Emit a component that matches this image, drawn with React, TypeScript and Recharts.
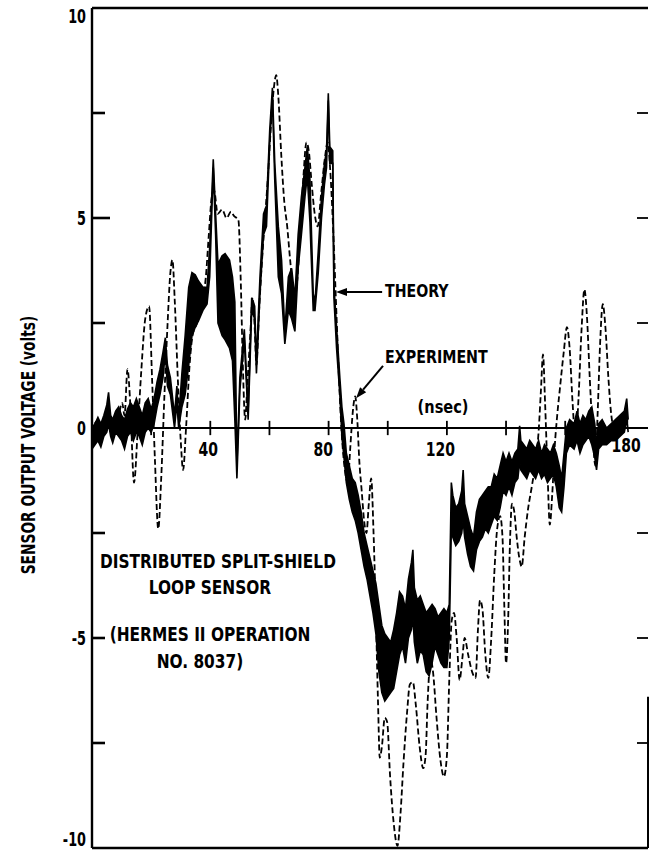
import React from "react";
import {
  ComposedChart,
  Area,
  Line,
  XAxis,
  YAxis,
  ReferenceLine,
  ReferenceDot,
} from "recharts";

const FONT = "'Liberation Sans Narrow', 'DejaVu Sans Condensed', 'Arial Narrow', sans-serif";

// theory trace is a thick noisy band: lower and upper edge
const theoryT = [
  0, 1, 2, 3, 4, 5, 5.6, 6.3, 7, 8, 9, 10, 11, 12, 13, 14, 15, 16, 17, 18, 19, 20,
  21, 22, 23, 24, 24.8, 25.5, 26.5, 27.9, 28.7, 29.3, 30.4, 31.5, 32.7, 33.8, 34.9, 36,
  37.5, 38.9, 39.8, 41, 41.8, 42.6, 44, 45, 46.5, 47.5, 48.3, 49, 50, 51.5, 52.8, 54,
  55, 55.6, 56.8, 58, 59, 60.1, 61, 61.8, 63, 64.1, 65.2, 66.4, 67.5, 68.6, 69.7, 70.8,
  72, 72.8, 73.7, 74.8, 75.4, 76.5, 77.6, 78.6, 79.3, 79.9, 80.4, 81.4, 81.8, 82.7, 83.8,
  84.5, 85.2, 86, 87, 88, 89, 90, 91, 92, 93, 94, 95, 96, 97, 98, 99, 100, 101, 102, 103,
  104, 105, 106, 107, 108, 108.5, 109, 110, 111, 112, 113, 114, 115, 116, 117, 118, 119,
  120, 120.8, 121.5, 122, 123, 124, 125, 125.5, 126, 127, 128, 129, 130, 131, 132, 133,
  134, 135, 136, 137, 138, 139, 140, 141, 142, 143, 144, 144.6, 145, 146, 147, 148, 149,
  150, 151, 152, 153, 154, 155, 156, 157, 158, 158.8, 159.6, 160.4, 161.5, 163, 164, 165,
  166, 167, 168, 169, 170, 170.6, 171.3, 172.5, 174, 175.5, 177, 178.5, 180, 180.8, 181.3,
];
const theoryLo = [
  -0.5, -0.4, -0.3, -0.45, -0.2, -0.1, 0.1, -0.2, -0.35, -0.1, -0.2, -0.3, -0.5, -0.2, -0.1, -0.3, -0.1, -0.2, -0.4, -0.1, 0, -0.1,
  0.1, 0.5, 0.8, 1.2, 1.8, 1.0, 0.8, 0.0, 0.6, 0.0, 0.5, 0.8, 1.5, 2.2, 2.4, 2.55,
  2.8, 2.95, 3.6, 6.2, 4.6, 2.5, 2.2, 2.1, 1.9, 1.6, 0.2, -1.2, 0.9, 2.1, 0.2, 2.8,
  2.6, 1.3, 3.2, 4.6, 4.8, 6.8, 7.85, 5.9, 3.6, 3.2, 2.0, 2.8, 2.6, 2.3, 3.8, 4.6,
  5.5, 6.0, 4.9, 2.8, 2.8, 3.7, 5.0, 5.8, 6.2, 7.8, 6.3, 6.3, 3.1, 1.9, 0.8,
  -0.2, -0.7, -1.3, -1.7, -2.0, -2.2, -2.5, -2.9, -3.3, -3.6, -4.0, -4.4, -4.9, -5.8, -6.3, -6.5, -6.4, -6.3, -6.2, -5.8,
  -5.4, -5.2, -5.6, -5.0, -4.8, -4.5, -5.1, -5.6, -5.3, -5.4, -5.8, -5.9, -5.6, -5.2, -5.4, -5.6, -5.7,
  -5.7, -5.0, -2.4, -2.6, -2.8, -2.7, -2.5, -2.2, -2.6, -3.0, -3.3, -3.4, -2.9, -2.7, -2.6, -2.4,
  -2.5, -2.3, -2.1, -2.2, -1.9, -1.5, -1.6, -1.4, -1.6, -1.3, -1.2, -0.8, -1.0, -1.1, -1.2, -1.0, -1.1,
  -1.2, -1.0, -1.2, -1.1, -1.3, -1.2, -1.1, -1.4, -1.9, -2.0, -1.4, -0.6, -0.4, -0.5, -0.3, -0.6,
  -0.4, -0.3, -0.2, -0.4, -0.7, -1.0, -0.5, -0.4, -0.4, -0.3, -0.3, -0.2, -0.1, 0.2, -0.1,
];
const theoryHi = [
  0.0, 0.1, 0.25, 0.1, 0.3, 0.55, 0.85, 0.3, 0.2, 0.4, 0.5, 0.3, 0.2, 0.45, 0.6, 0.5, 0.7, 0.5, 0.3, 0.6, 0.7, 0.45,
  0.7, 1.1, 1.4, 1.8, 2.15, 1.5, 1.2, 0.3, 1.0, 0.2, 1.3, 2.2, 3.35, 3.7, 3.65, 3.5,
  3.35, 3.35, 4.3, 6.4, 5.1, 3.9, 4.1, 4.15, 4.0, 3.6, 3.0, -0.9, 1.2, 2.35, 0.4, 3.1,
  2.9, 1.6, 3.6, 5.1, 5.3, 7.1, 8.1, 6.3, 4.8, 4.0, 2.3, 3.6, 3.8, 3.1, 4.6, 5.5,
  6.2, 6.7, 5.9, 3.2, 3.0, 4.2, 5.5, 6.3, 6.6, 7.97, 6.7, 6.6, 3.4, 2.4, 1.2,
  0.5, 0.1, -0.6, -0.9, -1.2, -1.3, -1.6, -2.0, -2.5, -2.8, -3.1, -3.4, -3.7, -4.2, -4.7, -4.9, -5.0, -5.1, -4.8, -4.4,
  -3.9, -4.0, -4.3, -3.6, -3.2, -2.9, -3.8, -4.1, -4.0, -4.2, -4.4, -4.3, -4.2, -4.3, -4.5, -4.4, -4.3,
  -4.4, -4.2, -1.3, -1.6, -1.9, -1.8, -1.5, -1.0, -1.8, -2.1, -2.4, -2.6, -2.0, -1.7, -1.6, -1.5,
  -1.4, -1.4, -1.1, -1.2, -0.9, -0.6, -0.8, -0.6, -0.8, -0.6, -0.5, 0.05, -0.3, -0.4, -0.5, -0.3, -0.4,
  -0.5, -0.3, -0.6, -0.4, -0.5, -0.6, -0.4, -0.6, -0.9, -1.2, -0.6, 0.0, 0.2, 0.1, 0.4, 0.1,
  0.3, 0.2, 0.4, 0.5, 0.1, -0.4, 0.1, 0.2, 0.0, 0.1, 0.2, 0.3, 0.4, 0.7, 0.2,
];

// experiment trace (dashed)
const expT = [
  0, 1.5, 3, 4.5, 6, 7.5, 9, 10.2, 11, 12, 13, 14.2, 15.5, 16.7, 18, 19.3, 20.3, 21.3,
  22.4, 23.4, 24.5, 25.5, 26.5, 27.2, 28, 29, 30, 30.8, 31.8, 33, 34, 35.5, 37, 38.5,
  39.5, 40.5, 41.3, 42.5, 44, 45.5, 47, 48, 49.5, 50.3, 51, 51.8, 52.5, 53.5, 54.3, 55,
  55.6, 56.5, 57.5, 58.5, 59.5, 60.5, 61.5, 62.3, 63, 64, 65, 66, 67, 68.5, 69.5, 70.5,
  71.5, 72.5, 73.3, 74.3, 75.3, 76.3, 77.5, 78.7, 79.7, 80.5, 81.5, 82.5, 83.5, 84.5,
  85.5, 86.5, 87.3, 88.2, 89, 89.7, 90.4, 91.2, 92, 92.8, 93.6, 94.4, 95.2, 96, 96.7,
  97.3, 98, 99, 99.8, 100.8, 102, 103.3, 104.3, 105.3, 106.5, 107.5, 108.5, 109.5, 110.8,
  112, 112.8, 113.5, 114.5, 115.3, 116.5, 117.8, 119, 120, 120.8, 121.6, 122.4, 123.3,
  124.3, 125.2, 126, 127.2, 128.5, 129.7, 130.5, 131.2, 132, 133, 134, 135, 136, 137, 138,
  138.8, 139.4, 140, 140.7, 141.3, 142, 142.8, 143.6, 144.5, 145.3, 146.3, 147.5, 148.7,
  150, 151, 151.8, 152.5, 153.2, 154, 154.8, 155.6, 156.5, 157.3, 158.3, 159.5, 160.6,
  161.5, 162.5, 163.5, 164.5, 165.5, 166.5, 167.4, 168.3, 169.2, 170.2, 171, 171.8, 172.7,
  173.6, 174.6, 175.6, 176.5, 178, 180,
];
const expV = [
  -0.1, 0.15, -0.2, 0.1, 0.3, 0.0, 0.3, 0.6, 0.3, 1.4, 0.5, -1.3, 0.0, 1.4, 2.6, 2.9, 1.2, -0.8,
  -2.4, -1.2, 0.8, 2.4, 3.7, 4.0, 3.0, 1.2, -0.3, -1.0, 0.0, 1.5, 2.2, 2.5, 3.0, 3.6,
  4.6, 5.5, 5.65, 5.1, 5.2, 5.0, 5.15, 5.05, 4.95, 3.5, 1.5, 0.2, 1.0, 2.2, 3.1, 2.4,
  1.5, 2.8, 4.0, 5.0, 6.0, 7.2, 8.1, 8.4, 7.9, 6.5, 5.4, 4.8, 4.0, 3.1, 3.6, 4.8,
  6.0, 6.8, 6.6, 5.8, 5.1, 4.8, 5.6, 6.4, 6.8, 6.2, 4.8, 3.0, 1.2, -0.2,
  -1.0, -1.3, -0.5, 0.4, 0.75, 0.2, -0.8, -1.5, -2.2, -2.5, -1.8, -1.2, -2.5, -4.5, -6.5,
  -7.85, -7.6, -6.9, -7.0, -8.3, -9.4, -9.95, -9.2, -8.0, -6.8, -6.1, -6.05, -6.6, -7.6,
  -8.1, -7.8, -6.5, -5.5, -5.8, -6.9, -7.9, -8.3, -7.8, -6.0, -4.6, -4.4, -5.0,
  -6.0, -5.5, -5.0, -5.4, -5.8, -5.95, -4.8, -4.1, -4.3, -5.4, -5.95, -5.0, -3.5, -2.4, -2.1,
  -2.6, -4.2, -5.6, -4.6, -2.8, -1.8, -2.0, -2.6, -3.1, -3.3, -2.6, -1.9, -1.4,
  -0.8, -0.1, 0.9, 1.75, 0.6, -1.0, -2.3, -1.6, -0.4, 0.3, 1.0, 1.8, 2.4,
  1.9, 0.6, -0.3, 0.7, 2.3, 3.3, 2.6, 1.2, 0.0, -0.9, 0.4, 2.0, 2.95,
  2.4, 1.2, 0.3, 0.0, 0.1, 0.2,
];

const yLabels = [-10, -5, 0, 5, 10];
const yMinor = [7.5, 5, 2.5, -2.5, -5, -7.5];
const xMinor = [20, 40, 60, 80, 100, 120, 140, 160];
const xLabels = ["40", "80", "120", "180"];
const xLabelAt = [39.3, 78.2, 117.8, 180.6];

const theoryData = theoryT.map((t, i) => ({ t, band: [theoryLo[i], theoryHi[i]] }));
const expData = expT.map((t, i) => ({ t, v: expV[i] }));

const X_MAX = 188;

// the scan uses a tall condensed face, so text is squeezed horizontally
function Squeezed(props: any) {
  const { x, y, sx, anchor, size, children } = props;
  return (
    <g transform={`translate(${x} ${y}) scale(${sx} 1)`}>
      <text x={0} y={0} textAnchor={anchor} fontFamily={FONT} fontSize={size} fontWeight="bold" fill="#000">
        {children}
      </text>
    </g>
  );
}

function YTick(props: any) {
  const { x, y, payload } = props;
  let dy = 7;
  if (payload.value === 10) dy = 15;
  if (payload.value === -10) dy = -2;
  return (
    <Squeezed x={x} y={y + dy} sx={0.75} anchor="end" size={19}>
      {payload.value}
    </Squeezed>
  );
}

function yLabel(props: any) {
  const vb = props.viewBox || { x: 0, y: 8, width: 92, height: 840 };
  const cx = vb.x + 28;
  const cy = vb.y + vb.height / 2 + 17;
  return (
    <g transform={`translate(${cx} ${cy}) rotate(-90) scale(0.9 1.1)`}>
      <text
        x={0}
        y={0}
        textAnchor="middle"
        dominantBaseline="central"
        fontFamily={FONT}
        fontSize={17}
        fontWeight="bold"
        fill="#000"
      >
        SENSOR OUTPUT VOLTAGE (volts)
      </text>
    </g>
  );
}

function textAt(value: string, anchor: "start" | "middle" | "end", size: number, sx: number, dy = 0) {
  return (p: any) => (
    <Squeezed x={p.cx} y={p.cy + dy} sx={sx} anchor={anchor} size={size}>
      {value}
    </Squeezed>
  );
}

// a horizontal reference line at a minor y value, drawn only as the two
// short frame ticks: one pointing in from the left axis, one from the right
function frameTicks(leftLen: number) {
  return (p: any) => {
    const xa = Math.min(p.x1, p.x2);
    const xb = Math.max(p.x1, p.x2);
    const y = p.y1;
    return (
      <g>
        <line x1={xa} y1={y} x2={xa + leftLen} y2={y} stroke="#000" strokeWidth={2.6} />
        <line x1={xb - 11} y1={y} x2={xb} y2={y} stroke="#000" strokeWidth={1.8} />
      </g>
    );
  };
}

function arrow(p: any) {
  const { x1, y1, x2, y2 } = p;
  const a = Math.atan2(y2 - y1, x2 - x1);
  const bx = x2 - 11 * Math.cos(a);
  const by = y2 - 11 * Math.sin(a);
  const nx = -Math.sin(a) * 4;
  const ny = Math.cos(a) * 4;
  return (
    <g>
      <line x1={x1} y1={y1} x2={bx} y2={by} stroke="#000" strokeWidth={2} />
      <polygon points={`${x2},${y2} ${bx + nx},${by + ny} ${bx - nx},${by - ny}`} fill="#000" />
    </g>
  );
}

const notes = [
  { text: "DISTRIBUTED SPLIT-SHIELD", t: 42.6, v: -3.33 },
  { text: "LOOP SENSOR", t: 39.9, v: -3.95 },
  { text: "(HERMES II OPERATION", t: 39.9, v: -5.07 },
  { text: "NO. 8037)", t: 36.5, v: -5.71 },
];

export default function App() {
  return (
    <div style={{ position: "absolute", left: 0, top: 0, width: 650, height: 850, background: "#fff" }}>
      <ComposedChart width={650} height={850} margin={{ top: 8, right: 2, bottom: 2, left: 0 }}>
        <XAxis type="number" dataKey="t" domain={[0, X_MAX]} hide allowDataOverflow />
        <YAxis
          type="number"
          domain={[-10, 10]}
          ticks={yLabels}
          interval={0}
          width={92}
          tickLine={false}
          tickSize={0}
          tickMargin={6}
          axisLine={{ stroke: "#000", strokeWidth: 2.4 }}
          tick={<YTick />}
          label={yLabel}
          allowDataOverflow
        />

        <ReferenceLine y={10} stroke="#000" strokeWidth={2.4} />
        <ReferenceLine y={-10} stroke="#000" strokeWidth={2.4} />
        <ReferenceLine y={0} stroke="#000" strokeWidth={2.2} />
        <ReferenceLine segment={[{ x: X_MAX, y: -6.4 }, { x: X_MAX, y: -10 }]} stroke="#000" strokeWidth={2} />

        {yMinor.map((v) => (
          <ReferenceLine key={`ft${v}`} y={v} stroke="#000" shape={frameTicks(v === 5 ? 18 : 13)} />
        ))}

        {xMinor.map((t) => (
          <ReferenceLine
            key={`x${t}`}
            segment={[{ x: t, y: -0.17 }, { x: t, y: 0.17 }]}
            stroke="#000"
            strokeWidth={1.8}
          />
        ))}
        {xLabels.map((s, i) => (
          <ReferenceDot
            key={`xl${s}`}
            x={xLabelAt[i]}
            y={0}
            r={0}
            shape={textAt(s, "middle", 19, 0.82, s === "180" ? 24 : 28)}
          />
        ))}

        <Area
          data={theoryData}
          dataKey="band"
          type="linear"
          stroke="#000"
          strokeWidth={1.6}
          fill="#000"
          fillOpacity={1}
          isAnimationActive={false}
        />
        <Line
          data={expData}
          dataKey="v"
          type="monotone"
          stroke="#000"
          strokeWidth={1.8}
          strokeDasharray="6 3"
          dot={false}
          isAnimationActive={false}
        />

        <ReferenceLine segment={[{ x: 98.1, y: 3.24 }, { x: 82.5, y: 3.24 }]} shape={arrow} />
        <ReferenceLine segment={[{ x: 98.4, y: 1.48 }, { x: 89.3, y: 0.71 }]} shape={arrow} />
        <ReferenceDot x={99.1} y={3.12} r={0} shape={textAt("THEORY", "start", 18, 0.875)} />
        <ReferenceDot x={99.1} y={1.55} r={0} shape={textAt("EXPERIMENT", "start", 18, 0.88)} />
        <ReferenceDot x={118.7} y={0.36} r={0} shape={textAt("(nsec)", "middle", 18, 0.9)} />
        {notes.map((n) => (
          <ReferenceDot key={n.text} x={n.t} y={n.v} r={0} shape={textAt(n.text, "middle", 19, 0.9)} />
        ))}
      </ComposedChart>
    </div>
  );
}
